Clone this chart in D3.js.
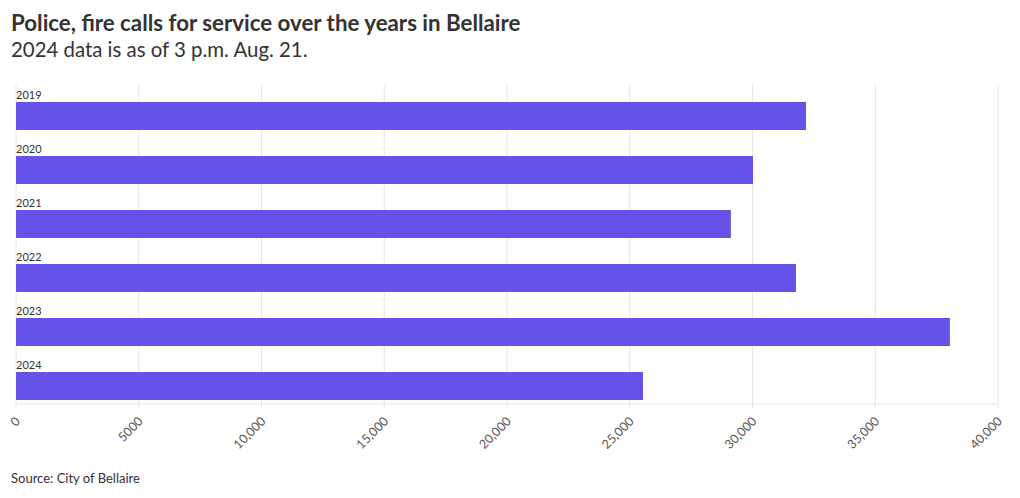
<!DOCTYPE html>
<html>
<head>
<meta charset="utf-8">
<script src="https://cdn.jsdelivr.net/npm/d3@7"></script>
<style>
  body { margin: 0; background: #fff; }
  svg text { font-family: "Source Sans Pro", Lato, "Noto Sans", sans-serif; }
</style>
</head>
<body>
<div id="chart"></div>
<script>
// chart data
const years = ["2019", "2020", "2021", "2022", "2023", "2024"];
const calls = [32180, 30020, 29120, 31770, 38040, 25540];
const tickValues = [0, 5000, 10000, 15000, 20000, 25000, 30000, 35000, 40000];
const tickLabels = ["0", "5000", "10,000", "15,000", "20,000", "25,000", "30,000", "35,000", "40,000"];

const width = 1020, height = 498;
const margin = {top: 80, right: 22, bottom: 94, left: 16};
const gridTop = 85;

let svg = d3.select("#chart")
    .append("svg")
    .attr("width", width)
    .attr("height", height);

// title + subtitle
svg.append("text")
    .attr("x", 11).attr("y", 31)
    .style("font-size", "22.3px")
    .style("font-weight", 700)
    .style("fill", "#333")
    .text("Police, fire calls for service over the years in Bellaire");

svg.append("text")
    .attr("x", 11).attr("y", 57)
    .style("font-size", "20.4px")
    .style("fill", "#333")
    .text("2024 data is as of 3 p.m. Aug. 21.");

let x = d3.scaleLinear()
    .domain([0, 40000])
    .range([margin.left, width - margin.right]);

let y = d3.scaleBand()
    .domain(years)
    .range([margin.top, height - margin.bottom])
    .paddingInner(0);

const baseY = height - margin.bottom;
let g = svg.append("g");

// vertical gridlines
g.selectAll("line.grid")
    .data(tickValues)
    .enter()
    .append("line")
    .attr("class", "grid")
    .attr("x1", d => x(d)).attr("x2", d => x(d))
    .attr("y1", gridTop).attr("y2", baseY + 4)
    .attr("stroke", "#e6e6e6")
    .attr("stroke-width", 1);

// baseline
g.append("line")
    .attr("x1", x(0)).attr("x2", x(40000))
    .attr("y1", baseY).attr("y2", baseY)
    .attr("stroke", "#e6e6e6");

const bandH = y.bandwidth();
const barH = 28;
const barOffset = bandH - barH - 4;

// bars
g.selectAll("rect.bar")
    .data(years)
    .enter()
    .append("rect")
    .attr("class", "bar")
    .attr("x", x(0))
    .attr("y", d => y(d) + barOffset)
    .attr("width", (d, i) => x(calls[i]) - x(0))
    .attr("height", barH)
    .attr("fill", "#6552e7");

// year labels above bars
g.selectAll("text.year")
    .data(years)
    .enter()
    .append("text")
    .attr("class", "year")
    .attr("x", x(0))
    .attr("y", d => y(d) + barOffset - 3)
    .style("font-size", "11px")
    .style("fill", "#333")
    .text(d => d);

// x axis tick labels (rotated)
g.selectAll("text.tick")
    .data(tickValues)
    .enter()
    .append("text")
    .attr("class", "tick")
    .attr("transform", d => `translate(${x(d) + 5}, ${baseY + 18}) rotate(-45)`)
    .style("text-anchor", "end")
    .style("font-size", "12.5px")
    .style("fill", "#555")
    .text((d, i) => tickLabels[i]);

// source
svg.append("text")
    .attr("x", 11).attr("y", 483)
    .style("font-size", "13px")
    .style("fill", "#333")
    .text("Source: City of Bellaire");
</script>
</body>
</html>
